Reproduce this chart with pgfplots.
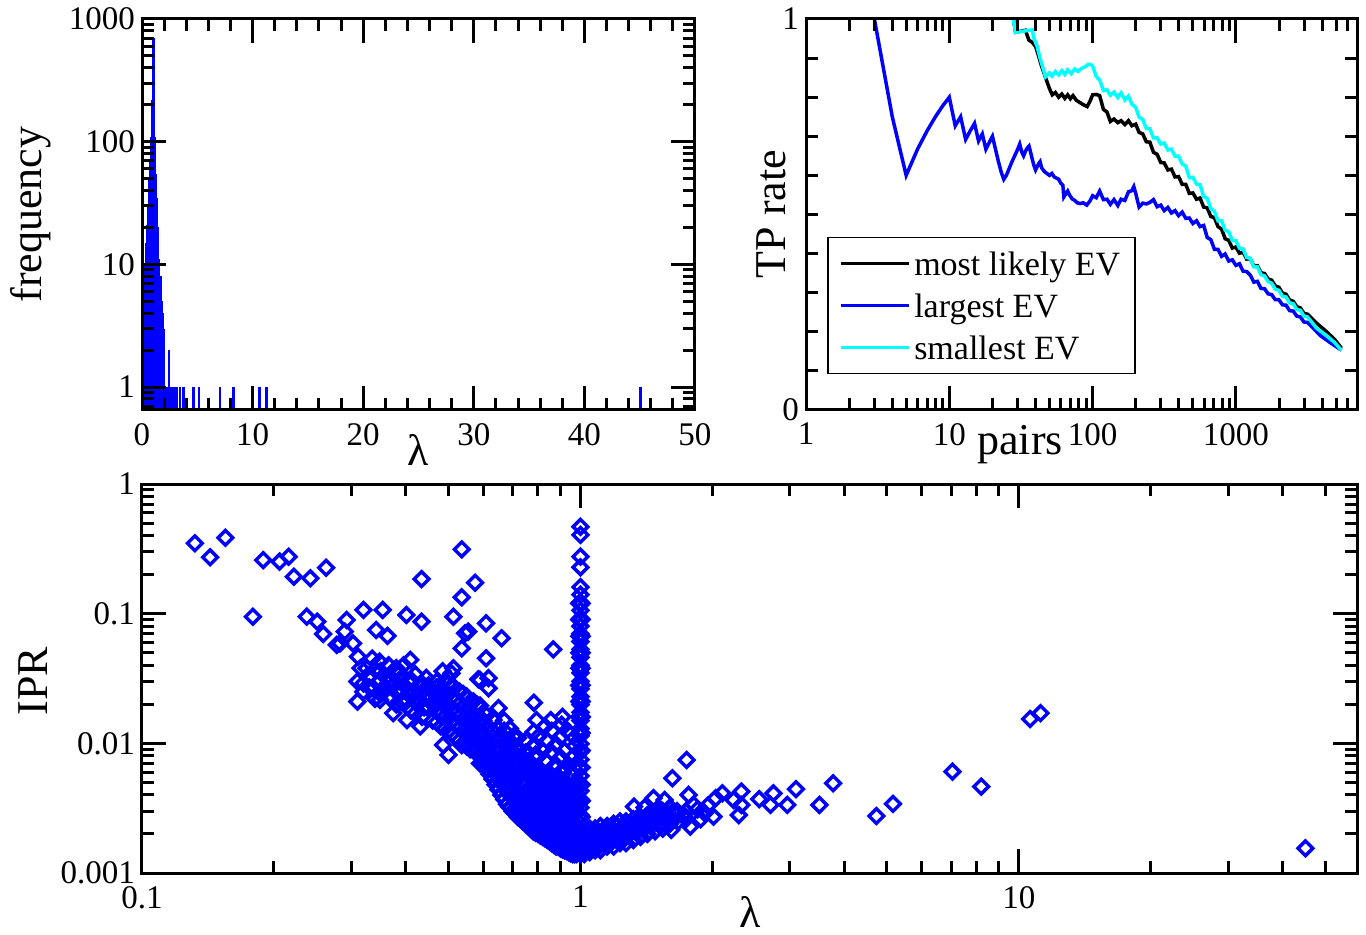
\documentclass[border=0pt]{standalone}
\usepackage{pgfplots}
\pgfplotsset{compat=1.18}
\usepackage{fontspec}
\setmainfont{Liberation Serif}
\definecolor{gblue}{RGB}{0,0,255}
\definecolor{gcyan}{RGB}{0,255,255}
\newcommand\tickfont{\fontsize{16.5}{19}\selectfont}
\newcommand\labfont{\fontsize{22}{26}\selectfont}
\newcommand\legfont{\fontsize{17}{20}\selectfont}

\pgfplotsset{
  gframe/.style={
    scale only axis,
    axis on top,
    axis line style={line width=1.5pt},
    tick style={line width=1.5pt, black},
    major tick length=12pt,
    minor tick length=6pt,
    tick align=inside,
    xtick pos=both, ytick pos=both,
    ticklabel style={font=\tickfont},
    xticklabel style={yshift=-3pt},
    /pgf/number format/assume math mode=true,
  },
}

\begin{document}
\begin{tikzpicture}
\path[use as bounding box] (0pt,0pt) rectangle (683pt,-467.5pt);

% ---------------- eigenvalue histogram ----------------
\begin{axis}[gframe,
  at={(71pt,-205pt)}, anchor=south west,
  width=276.5pt, height=195.5pt,
  xmin=0, xmax=50, ymode=log, ymin=0.65, ymax=1000,
  log origin y=infty,
  xtick={0,10,20,30,40,50}, xticklabels={0,10,20,30,40,50},
  minor x tick num=4,
  ytick={1,10,100,1000}, yticklabels={1,10,100,1000},
  minor ytick={0.7,0.8,0.9,2,3,4,5,6,7,8,9,20,30,40,50,60,70,80,90,200,300,400,500,600,700,800,900},
]
\addplot[ycomb, gblue, line width=1.3pt, mark=none] coordinates {
(0.15,5) (0.25,10) (0.35,15) (0.45,21) (0.55,30) (0.65,50) (0.75,70)
(0.85,110) (0.95,220) (1.05,700) (1.15,110) (1.25,55) (1.35,35) (1.45,20)
(1.55,11) (1.65,8) (1.75,5) (1.85,4) (1.95,3) (2.05,1) (2.15,1) (2.25,1)
(2.45,2) (2.65,1) (2.75,1) (2.95,1) (3.15,1) (3.45,1) (3.75,1) (4.65,1)
(5.15,1) (7.05,1) (8.25,1) (10.65,1) (11.25,1) (45.05,1)
};
\end{axis}

% ---------------- TP rate ----------------
\begin{axis}[gframe,
  at={(403pt,-205pt)}, anchor=south west,
  width=275.5pt, height=195.5pt,
  xmode=log, xmin=1, xmax=7000, ymin=0, ymax=1,
  xtick={1,10,100,1000}, xticklabels={1,10,100,1000},
  minor xtick={2,3,4,5,6,7,8,9,20,30,40,50,60,70,80,90,200,300,400,500,600,700,800,900,2000,3000,4000,5000,6000},
  ytick={0,1}, yticklabels={0,1}, minor y tick num=9,
  legend cell align=left,
  legend image code/.code={\draw[#1] (0pt,0pt) -- (24pt,0pt); \path (24pt,0pt) -- (34pt,0pt);},
  legend style={at={(0.0381,0.4425)}, anchor=north west, draw=black,
    line width=0.75pt, font=\legfont, inner xsep=5.5pt, inner ysep=3pt,
    row sep=1pt,
    nodes={inner sep=2pt, text height=14pt, text depth=2pt},
    /tikz/every even column/.append style={column sep=2pt}},
]
\addplot[black, line width=1.75pt] coordinates {
(28,1) (29,0.966) (34,0.971) (35.9,0.946) (38,0.94) (40,0.93) (42,0.905)
(44,0.88) (46,0.86) (48,0.84) (50,0.822) (52.3,0.806) (55,0.812) (58,0.800)
(61,0.808) (64,0.797) (67,0.806) (70,0.796) (73,0.804) (77,0.792) (81,0.787)
(86,0.781) (91.6,0.776) (96,0.79)
(100,0.806) (106,0.807) (112,0.804) (119,0.769) (126,0.762) (133,0.738)
(141,0.744) (150,0.735) (158,0.740) (168,0.730) (178,0.740) (188,0.727)
(200,0.731) (211,0.710) (224,0.706) (237,0.686) (251,0.685) (266,0.659)
(282,0.654) (299,0.633) (316,0.632) (335,0.614) (355,0.616) (376,0.596)
(398,0.597) (422,0.577) (447,0.577) (473,0.554) (501,0.555) (531,0.539)
(562,0.542) (596,0.519) (631,0.517) (668,0.495) (708,0.492) (750,0.469)
(794,0.463) (841,0.438) (891,0.434) (944,0.414) (1000,0.417) (1059,0.401)
(1122,0.404) (1189,0.386) (1259,0.387) (1334,0.368) (1413,0.369) (1496,0.351)
(1585,0.349) (1679,0.335) (1778,0.332) (1884,0.317) (1995,0.314) (2113,0.299)
(2239,0.296) (2371,0.281) (2512,0.278) (2661,0.264) (2818,0.261) (2985,0.247)
(3162,0.245) (3660,0.222) (4300,0.2) (4900,0.18) (5450,0.158)
};
\addlegendentry{most likely EV}
\addplot[gblue, line width=1.75pt] coordinates {
(3,1) (4,0.75) (5,0.6) (6,0.667) (7,0.714) (8,0.75) (9,0.778)
(10,0.8) (11,0.727) (12,0.75) (13,0.692) (14,0.714) (15,0.733) (16,0.688)
(17,0.706) (18,0.667) (19,0.684) (20,0.70) (21,0.667) (22,0.636) (23,0.609)
(24,0.59) (25,0.6) (26,0.615) (27,0.63) (28,0.643) (29,0.655) (30,0.667)
(31,0.68) (32,0.66) (33,0.65) (34,0.662) (35,0.67) (36,0.675) (37,0.658)
(38,0.64) (39,0.625) (40,0.614) (41,0.622) (42,0.63) (43,0.635) (44,0.62)
(46,0.61) (48,0.605) (50,0.60) (52,0.605) (54,0.596) (56,0.593) (58,0.59)
(60,0.58) (62,0.575) (63,0.545) (65,0.553) (67,0.56) (69,0.55) (72,0.54)
(75,0.536) (78,0.53) (82,0.528) (86,0.53) (91,0.524) (96,0.535)
(100,0.548) (106,0.543) (112,0.560) (119,0.538) (126,0.539) (133,0.526)
(141,0.538) (150,0.523) (158,0.539) (168,0.536) (178,0.558) (188,0.561)
(194,0.571) (200,0.554) (211,0.519) (224,0.529) (237,0.527) (251,0.531)
(266,0.538) (282,0.520) (299,0.524) (316,0.510) (335,0.518) (355,0.504)
(376,0.510) (398,0.497) (422,0.506) (447,0.490) (473,0.491) (501,0.477)
(531,0.484) (562,0.469) (596,0.472) (631,0.441) (668,0.436) (708,0.411)
(750,0.411) (794,0.393) (841,0.399) (891,0.381) (944,0.384) (1000,0.370)
(1059,0.374) (1122,0.355) (1189,0.354) (1259,0.345) (1334,0.327) (1413,0.329)
(1496,0.311) (1585,0.310) (1679,0.297) (1778,0.295) (1884,0.282) (1995,0.282)
(2113,0.269) (2239,0.268) (2371,0.254) (2512,0.253) (2661,0.240) (2818,0.238)
(2985,0.225) (3162,0.224) (3900,0.19) (4600,0.171) (5450,0.153)
};
\addlegendentry{largest EV}
\addplot[gcyan, line width=1.75pt] coordinates {
(28,1) (29,0.966) (33,0.969) (37.9,0.972) (39,0.95) (41,0.93) (43,0.90)
(45,0.875) (47,0.852) (50,0.862) (52,0.854) (55,0.866) (58,0.857) (61,0.868)
(64,0.858) (67,0.87) (71,0.86) (75,0.872) (79,0.866) (84,0.874) (89,0.878)
(93,0.884) (96.6,0.884)
(100,0.880) (106,0.853) (112,0.844) (119,0.817) (126,0.819) (133,0.805)
(141,0.813) (150,0.799) (158,0.811) (168,0.793) (178,0.803) (188,0.782)
(200,0.774) (211,0.749) (224,0.743) (237,0.720) (251,0.719) (266,0.696)
(282,0.696) (299,0.680) (316,0.683) (335,0.665) (355,0.667) (376,0.649)
(398,0.649) (422,0.629) (447,0.624) (473,0.594) (501,0.595) (531,0.578)
(562,0.576) (596,0.546) (631,0.541) (668,0.515) (708,0.508) (750,0.484)
(794,0.484) (841,0.460) (891,0.456) (944,0.433) (1000,0.433) (1059,0.414)
(1122,0.412) (1189,0.390) (1259,0.388) (1334,0.366) (1413,0.366) (1496,0.346)
(1585,0.343) (1679,0.328) (1778,0.324) (1884,0.309) (1995,0.306) (2113,0.291)
(2239,0.289) (2371,0.274) (2512,0.272) (2661,0.257) (2818,0.255) (2985,0.240)
(3162,0.238) (3660,0.209) (4300,0.19) (4900,0.172) (5450,0.153)
};
\addlegendentry{smallest EV}
\end{axis}

% ---------------- IPR versus eigenvalue ----------------
\begin{axis}[gframe,
  at={(71pt,-436.5pt)}, anchor=south west,
  width=607.5pt, height=194.5pt,
  xmode=log, ymode=log, xmin=0.1, xmax=59, ymin=0.001, ymax=1,
  xtick={0.1,1,10}, xticklabels={0.1,1,10},
  minor xtick={0.2,0.3,0.4,0.5,0.6,0.7,0.8,0.9,2,3,4,5,6,7,8,9,20,30,40,50},
  ytick={0.001,0.01,0.1,1}, yticklabels={0.001,0.01,0.1,1},
  minor ytick={0.002,0.003,0.004,0.005,0.006,0.007,0.008,0.009,0.02,0.03,0.04,0.05,0.06,0.07,0.08,0.09,0.2,0.3,0.4,0.5,0.6,0.7,0.8,0.9},
]
\addplot[only marks, draw=gblue, line width=1.7pt, mark=square, mark size=2.6pt,
  every mark/.append style={solid, rotate=45, line width=1.7pt, draw=gblue, fill=none}] coordinates {
% isolated states
(0.132,0.349) (0.143,0.272) (0.155,0.385) (0.179,0.0948) (0.189,0.259)
(0.206,0.252) (0.216,0.275) (0.222,0.193) (0.242,0.1875) (0.263,0.226)
(0.2375,0.0948) (0.251,0.0867) (0.259,0.0697) (0.278,0.0574) (0.283,0.059)
(0.293,0.0894) (0.29,0.0727) (0.303,0.059) (0.311,0.0466) (0.31,0.021)
(0.32,0.1068) (0.325,0.0379) (0.32,0.029) (0.337,0.0266) (0.342,0.0749)
(0.348,0.0427) (0.354,0.1068) (0.363,0.0673) (0.349,0.0216) (0.364,0.029)
(0.381,0.0357) (0.394,0.0327) (0.409,0.044) (0.388,0.0243) (0.401,0.0977)
(0.434,0.0867) (0.434,0.185) (0.374,0.0171) (0.402,0.0151) (0.438,0.0282)
(0.423,0.0229) (0.446,0.0229) (0.431,0.0135) (0.486,0.0229) (0.513,0.0948)
(0.536,0.3136) (0.536,0.1338) (0.575,0.1734) (0.513,0.0379) (0.508,0.0347)
(0.536,0.054) (0.5455,0.0706) (0.555,0.0727) (0.609,0.0843) (0.609,0.0453)
(0.661,0.0646) (0.617,0.0318) (0.585,0.0312) (0.486,0.0097) (0.5,0.00814)
(0.536,0.0097) (0.59,0.007) (0.69,0.00917) (0.783,0.0206) (0.794,0.0151)
(0.855,0.0151) (0.906,0.0139) (0.867,0.053) (0.901,0.0111) (0.783,0.0123)
(0.787,0.0097) (0.913,0.00588) (0.703,0.01127) (0.633,0.0151) (0.65,0.0187)
(0.617,0.0266) (0.59,0.0308)
% band below lambda = 0.5
(0.31,0.030) (0.315,0.038) (0.32,0.025) (0.33,0.033) (0.335,0.045)
(0.34,0.022) (0.345,0.029) (0.35,0.036) (0.355,0.026) (0.36,0.032)
(0.365,0.04) (0.37,0.022) (0.375,0.028) (0.38,0.02) (0.385,0.034)
(0.39,0.026) (0.395,0.04) (0.40,0.021) (0.405,0.03) (0.41,0.018)
(0.415,0.025) (0.42,0.034) (0.425,0.02) (0.43,0.028) (0.435,0.016)
(0.44,0.023) (0.445,0.032) (0.45,0.019) (0.455,0.026) (0.46,0.015)
(0.465,0.021) (0.47,0.03) (0.475,0.017) (0.48,0.025) (0.485,0.036)
(0.33,0.027) (0.34,0.037) (0.35,0.024) (0.36,0.027) (0.37,0.031) (0.38,0.025)
(0.39,0.021) (0.40,0.027) (0.41,0.023) (0.42,0.017) (0.43,0.024) (0.44,0.019)
(0.45,0.024) (0.46,0.02) (0.38,0.038) (0.41,0.031) (0.45,0.028)
% band 0.47 - 0.75
(0.47,0.0145) (0.47,0.018) (0.47,0.022) (0.47,0.027)
(0.49,0.013) (0.49,0.016) (0.49,0.02) (0.49,0.025) (0.49,0.03)
(0.51,0.012) (0.51,0.015) (0.51,0.0185) (0.51,0.023) (0.51,0.028)
(0.53,0.0105) (0.53,0.013) (0.53,0.016) (0.53,0.02) (0.53,0.025)
(0.55,0.0095) (0.55,0.012) (0.55,0.015) (0.55,0.0185) (0.55,0.023)
(0.57,0.0088) (0.57,0.011) (0.57,0.0138) (0.57,0.017) (0.57,0.021)
(0.59,0.008) (0.59,0.01) (0.59,0.0125) (0.59,0.0155) (0.59,0.0195)
(0.61,0.0085) (0.61,0.0105) (0.61,0.013) (0.61,0.0165)
(0.63,0.0082) (0.63,0.0102) (0.63,0.0125) (0.63,0.0155)
(0.65,0.0085) (0.65,0.0105) (0.65,0.013)
(0.67,0.0083) (0.67,0.0102) (0.67,0.0125) (0.67,0.015)
(0.69,0.0085) (0.69,0.0105) (0.69,0.013)
(0.72,0.0088) (0.72,0.011) (0.75,0.0085) (0.75,0.0105)
(0.48,0.0135) (0.48,0.0165) (0.48,0.021) (0.48,0.026)
(0.50,0.0125) (0.50,0.0155) (0.50,0.019) (0.50,0.024) (0.50,0.029)
(0.52,0.011) (0.52,0.014) (0.52,0.0175) (0.52,0.022)
(0.54,0.01) (0.54,0.0125) (0.54,0.0155) (0.54,0.019) (0.54,0.024)
(0.56,0.009) (0.56,0.0115) (0.56,0.0145) (0.56,0.018)
(0.58,0.0085) (0.58,0.0105) (0.58,0.013) (0.58,0.016) (0.58,0.02)
(0.60,0.0095) (0.60,0.012) (0.60,0.015)
% bottom of the valley
(0.60,0.0070) (0.60,0.0085)
(0.62,0.0058) (0.62,0.0072)
(0.64,0.0048) (0.64,0.006) (0.64,0.0072)
(0.66,0.0040) (0.66,0.005) (0.66,0.0062) (0.66,0.0075)
(0.68,0.0034) (0.68,0.0043) (0.68,0.0054) (0.68,0.0067)
(0.70,0.0030) (0.70,0.0038) (0.70,0.0048) (0.70,0.006) (0.70,0.0074)
(0.72,0.0027) (0.72,0.0034) (0.72,0.0043) (0.72,0.0054) (0.72,0.0068)
(0.74,0.0025) (0.74,0.0031) (0.74,0.0039) (0.74,0.0049) (0.74,0.0062) (0.74,0.0077)
(0.76,0.0023) (0.76,0.0029) (0.76,0.0036) (0.76,0.0045) (0.76,0.0057) (0.76,0.0071)
(0.78,0.0021) (0.78,0.0027) (0.78,0.0034) (0.78,0.0043) (0.78,0.0054) (0.78,0.0068)
(0.80,0.0020) (0.80,0.0025) (0.80,0.0032) (0.80,0.004) (0.80,0.005) (0.80,0.0063) (0.80,0.0079)
(0.82,0.0019) (0.82,0.0024) (0.82,0.003) (0.82,0.0038) (0.82,0.0048) (0.82,0.006)
(0.84,0.0018) (0.84,0.0023) (0.84,0.0029) (0.84,0.0036) (0.84,0.0045) (0.84,0.0057) (0.84,0.0072)
(0.86,0.0017) (0.86,0.0022) (0.86,0.0028) (0.86,0.0035) (0.86,0.0044) (0.86,0.0055)
(0.88,0.0016) (0.88,0.0021) (0.88,0.0027) (0.88,0.0034) (0.88,0.0043) (0.88,0.0054) (0.88,0.0068)
(0.90,0.00155) (0.90,0.002) (0.90,0.0026) (0.90,0.0033) (0.90,0.0042) (0.90,0.0053)
(0.92,0.0015) (0.92,0.0019) (0.92,0.0025) (0.92,0.0032) (0.92,0.004) (0.92,0.005) (0.92,0.0064)
(0.94,0.00145) (0.94,0.0019) (0.94,0.0024) (0.94,0.003) (0.94,0.0038) (0.94,0.0048)
(0.96,0.0014) (0.96,0.0018) (0.96,0.0023) (0.96,0.0029) (0.96,0.0037) (0.96,0.0047) (0.96,0.0058)
(0.98,0.0014) (0.98,0.0018) (0.98,0.0023) (0.98,0.0029) (0.98,0.0037)
(0.61,0.0064) (0.61,0.0078) (0.61,0.0095)
(0.63,0.0053) (0.63,0.0066) (0.63,0.0081)
(0.65,0.0044) (0.65,0.0055) (0.65,0.0068) (0.65,0.0084)
(0.67,0.0037) (0.67,0.0047) (0.67,0.0058) (0.67,0.0072)
(0.69,0.0032) (0.69,0.004) (0.69,0.005) (0.69,0.0063) (0.69,0.008)
(0.71,0.0029) (0.71,0.0036) (0.71,0.0045) (0.71,0.0057) (0.71,0.0071)
(0.73,0.0026) (0.73,0.0032) (0.73,0.004) (0.73,0.005) (0.73,0.0063) (0.73,0.0079)
(0.75,0.0024) (0.75,0.003) (0.75,0.0037) (0.75,0.0047) (0.75,0.0059) (0.75,0.0074)
(0.77,0.0022) (0.77,0.0028) (0.77,0.0035) (0.77,0.0044) (0.77,0.0055) (0.77,0.0069)
(0.79,0.00205) (0.79,0.0026) (0.79,0.0033) (0.79,0.0041) (0.79,0.0052) (0.79,0.0065) (0.79,0.0082)
(0.81,0.00195) (0.81,0.0024) (0.81,0.0031) (0.81,0.0039) (0.81,0.0049) (0.81,0.0062)
(0.83,0.00185) (0.83,0.0023) (0.83,0.0029) (0.83,0.0037) (0.83,0.0046) (0.83,0.0058) (0.83,0.0074)
(0.85,0.00175) (0.85,0.0022) (0.85,0.0028) (0.85,0.0035) (0.85,0.0044) (0.85,0.0055)
(0.87,0.00165) (0.87,0.0021) (0.87,0.0027) (0.87,0.0034) (0.87,0.0042) (0.87,0.0053) (0.87,0.0066)
(0.89,0.0016) (0.89,0.002) (0.89,0.0026) (0.89,0.0033) (0.89,0.0041) (0.89,0.0052)
(0.91,0.00152) (0.91,0.0019) (0.91,0.0025) (0.91,0.0031) (0.91,0.0039) (0.91,0.0049) (0.91,0.0062)
(0.93,0.00148) (0.93,0.0019) (0.93,0.0024) (0.93,0.003) (0.93,0.0038) (0.93,0.0048)
(0.95,0.00142) (0.95,0.0018) (0.95,0.0023) (0.95,0.0029) (0.95,0.0037) (0.95,0.0046) (0.95,0.0058)
(0.97,0.0014) (0.97,0.0018) (0.97,0.0023) (0.97,0.0029) (0.97,0.0036) (0.97,0.0046)
(0.78,0.0095) (0.8,0.0112) (0.82,0.0088) (0.84,0.0105) (0.86,0.0085)
(0.88,0.0098) (0.9,0.0078) (0.92,0.0088) (0.94,0.0068) (0.96,0.0078)
(0.97,0.0095) (0.95,0.0118) (0.93,0.0125) (0.91,0.016) (0.86,0.0125) (0.83,0.0135)
% states at lambda = 1
(1,0.0014) (1,0.0016) (1,0.00185) (1,0.0021) (1,0.0024) (1,0.0028) (1,0.0032)
(1,0.0037) (1,0.0043) (1,0.0049) (1,0.0056) (1,0.0065) (1,0.0075) (1,0.0086)
(1,0.0099) (1,0.0114) (1,0.013) (1,0.015) (1,0.0173) (1,0.0199) (1,0.0229)
(1,0.0263) (1,0.030) (1,0.035) (1,0.040) (1,0.046) (1,0.053) (1,0.061)
(1,0.070) (1,0.080) (1,0.092) (1,0.106) (1,0.122) (1,0.14) (1,0.16)
(1,0.228) (1,0.275) (1,0.405) (1,0.468)
(0.994,0.0015) (0.994,0.002) (0.994,0.0027) (0.994,0.0036) (0.994,0.0048)
(0.994,0.0065) (0.994,0.0088) (0.994,0.012) (0.994,0.016) (0.994,0.021)
(0.994,0.028) (0.994,0.038) (0.994,0.05) (0.994,0.067) (0.994,0.09) (0.994,0.12)
(1.006,0.0015) (1.006,0.002) (1.006,0.0027) (1.006,0.0036) (1.006,0.0048)
(1.006,0.0065) (1.006,0.0088) (1.006,0.012) (1.006,0.016) (1.006,0.021)
(1.006,0.028) (1.006,0.038) (1.006,0.05) (1.006,0.067) (1.006,0.09) (1.006,0.12)
% branch above lambda = 1
(1.02,0.0014) (1.02,0.0017) (1.02,0.0021)
(1.05,0.00145) (1.05,0.0018) (1.05,0.0022)
(1.08,0.0015) (1.08,0.0018) (1.08,0.0022)
(1.11,0.0015) (1.11,0.0019) (1.11,0.0023)
(1.15,0.0016) (1.15,0.0019) (1.15,0.0023)
(1.19,0.0016) (1.19,0.002) (1.19,0.0024)
(1.23,0.0017) (1.23,0.0021) (1.23,0.0025)
(1.27,0.0017) (1.27,0.0021) (1.27,0.0025)
(1.32,0.0018) (1.32,0.0022) (1.32,0.0026)
(1.37,0.0019) (1.37,0.0023) (1.37,0.0027)
(1.42,0.002) (1.42,0.0024) (1.42,0.0028)
(1.48,0.0021) (1.48,0.0025) (1.48,0.0029)
(1.54,0.0022) (1.54,0.0027) (1.54,0.003)
(1.60,0.0024) (1.60,0.0028) (1.60,0.0032)
(1.67,0.0025) (1.67,0.0029) (1.74,0.0026) (1.74,0.003)
(1.035,0.00155) (1.035,0.0019) (1.065,0.0016) (1.065,0.002)
(1.095,0.00165) (1.095,0.0021) (1.13,0.0017) (1.13,0.0021)
(1.17,0.0018) (1.17,0.0022) (1.21,0.0018) (1.21,0.0023)
(1.25,0.0019) (1.25,0.0023) (1.295,0.002) (1.295,0.0024)
(1.345,0.0021) (1.345,0.0025) (1.395,0.0022) (1.395,0.0026)
(1.45,0.0023) (1.45,0.0027) (1.51,0.0024) (1.51,0.0028)
(1.57,0.0025) (1.57,0.0029) (1.63,0.0026) (1.63,0.003)
(1.40,0.0032) (1.45,0.0029) (1.52,0.0031) (1.58,0.0027) (1.66,0.003)
(1.72,0.0028) (1.85,0.0031) (1.92,0.0029) (1.95,0.0033) (1.88,0.0026)
(1.746,0.00745) (1.62,0.00538) (1.467,0.00378) (1.556,0.00366) (1.325,0.00325)
(1.764,0.0040) (1.813,0.00335) (2.034,0.00378) (2.107,0.00412) (2.328,0.00425)
(2.235,0.00366) (2.328,0.00335) (2.296,0.0028) (2.01,0.00272) (2.556,0.00371)
(2.755,0.00412) (2.712,0.00335) (2.962,0.00335) (3.101,0.00443) (3.507,0.00335)
(3.77,0.00492) (4.73,0.00275) (5.16,0.00341) (7.05,0.00605) (8.2,0.00464)
(10.6,0.0154) (11.2,0.0171) (45,0.00155) (1.78,0.00228) (1.61,0.00215)
};
\end{axis}

% axis titles
\node[rotate=90, font=\labfont, inner sep=0pt] at (15.5pt,-107.25pt) {frequency};
\node[font=\labfont, inner sep=0pt] at (209pt,-225pt) {λ};
\node[rotate=90, font=\labfont, inner sep=0pt] at (385.5pt,-107pt) {TP rate};
\node[font=\labfont, inner sep=0pt] at (510pt,-222.5pt) {pairs};
\node[rotate=90, font=\labfont, inner sep=0pt] at (16.5pt,-340.5pt) {IPR};
\node[font=\labfont, inner sep=0pt] at (375pt,-456pt) {λ};
\end{tikzpicture}
\end{document}
